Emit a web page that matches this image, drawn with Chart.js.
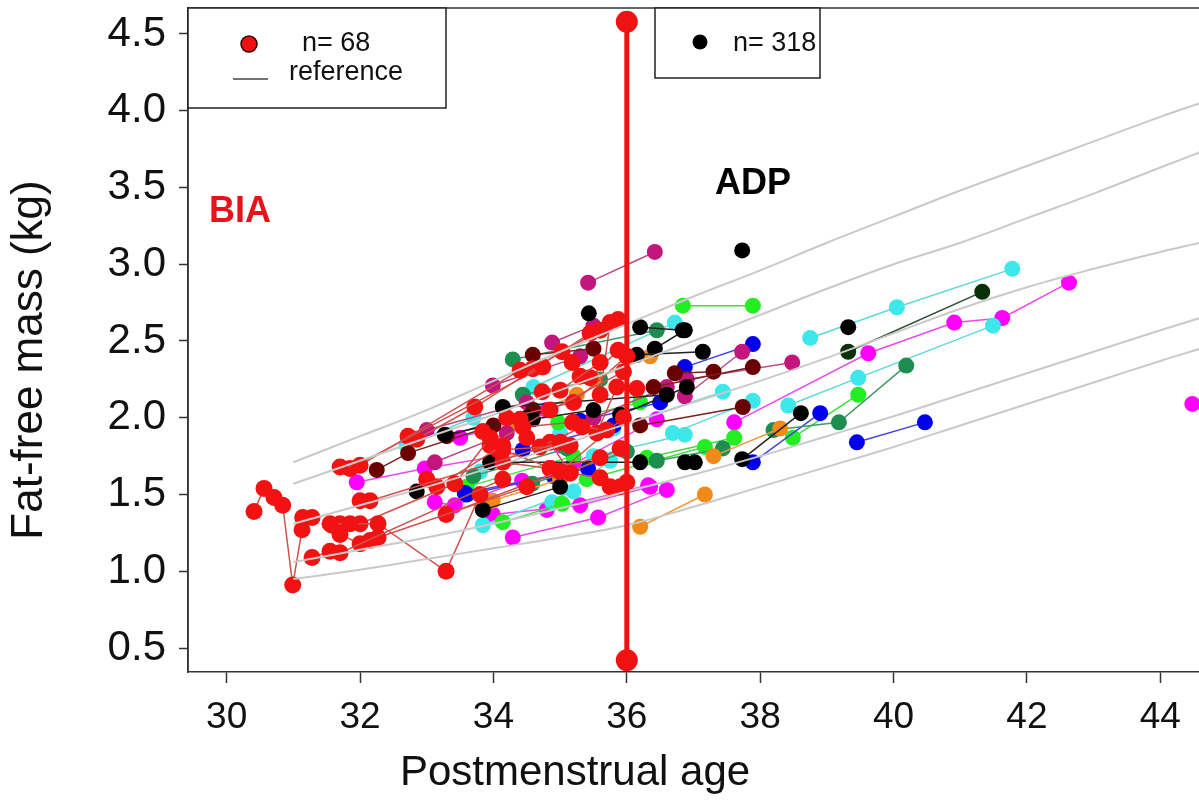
<!DOCTYPE html>
<html>
<head>
<meta charset="utf-8">
<script src="https://cdn.jsdelivr.net/npm/chart.js@4.4.1/dist/chart.umd.min.js"></script>
<style>
  html, body { margin: 0; padding: 0; background: #ffffff; }
  #wrap { width: 1199px; height: 801px; position: relative; }
</style>
</head>
<body>
<div id="wrap"><canvas id="c" width="1199" height="801"></canvas></div>
<script>
// ---------------- DATA ----------------
const xTicks = [30, 32, 34, 36, 38, 40, 42, 44];
const yTicks = [0.5, 1.0, 1.5, 2.0, 2.5, 3.0, 3.5, 4.0, 4.5];
const xTitle = 'Postmenstrual age';
const yTitle = 'Fat-free mass (kg)';

// reference curves (grey)
const refAge = [31, 32, 33, 34, 35, 36, 37, 38, 39, 40, 41, 42, 43, 44, 44.6];
const ref1 = [1.71, 1.88, 2.05, 2.24, 2.43, 2.61, 2.79, 2.96, 3.14, 3.31, 3.48, 3.64, 3.80, 3.96, 4.05];
const ref2 = [1.57, 1.72, 1.87, 2.02, 2.18, 2.34, 2.50, 2.67, 2.84, 3.00, 3.14, 3.30, 3.46, 3.63, 3.73];
const ref3 = [1.31, 1.43, 1.55, 1.68, 1.82, 1.96, 2.10, 2.24, 2.39, 2.55, 2.71, 2.85, 2.97, 3.08, 3.14];
const ref4 = [1.06, 1.14, 1.22, 1.31, 1.41, 1.52, 1.63, 1.75, 1.88, 2.01, 2.15, 2.29, 2.43, 2.57, 2.65];
const ref5 = [0.95, 1.01, 1.08, 1.15, 1.22, 1.30, 1.42, 1.55, 1.68, 1.81, 1.95, 2.09, 2.23, 2.37, 2.45];

// 36-week marker
const markerX = [36, 36];
const markerY = [0.42, 4.58];

// BIA subjects (red), each track = [[age, ffm], ...]
const biaTracks = [
  [[30.41,1.39],[30.56,1.54],[30.71,1.48],[30.84,1.43],[30.99,0.91],[31.13,1.27],[31.14,1.35],[31.28,1.35]],
  [[31.28,1.09],[31.55,1.13],[31.70,1.12],[34.14,1.60]],
  [[31.55,1.31],[31.85,1.31],[32.27,1.31],[33.29,1.00],[33.80,1.50]],
  [[31.58,1.30],[31.70,1.24],[32.00,1.18],[32.15,1.20],[32.27,1.22],[34.50,1.55]],
  [[31.70,1.31],[32.00,1.31],[33.42,1.57],[33.95,1.87]],
  [[31.70,1.68],[32.00,1.69],[34.40,2.31]],
  [[31.85,1.67],[34.74,2.33]],
  [[32.00,1.46],[32.15,1.46],[35.00,1.84]],
  [[32.72,1.88],[32.85,1.86],[33.72,2.07],[35.45,2.55]],
  [[33.00,1.60],[33.15,1.55],[34.14,1.82]],
  [[33.29,1.37],[35.00,1.65]],
  [[33.84,1.91],[34.07,1.79],[35.15,1.82]],
  [[34.14,1.71],[34.85,1.67],[35.60,1.74]],
  [[34.40,1.99],[34.44,1.94],[35.19,1.97]],
  [[34.50,1.87],[34.70,1.81],[35.33,1.94],[35.70,1.92]],
  [[34.59,2.32],[35.03,2.43],[35.60,2.57]],
  [[34.73,2.17],[35.00,2.18],[35.60,2.36]],
  [[35.18,2.36],[35.30,2.27],[35.45,2.26],[35.87,2.44]],
  [[34.85,1.84],[35.15,1.64],[35.60,1.61]],
  [[35.55,1.90],[35.85,2.20],[36.15,2.19]],
  [[35.60,2.15],[35.75,2.62],[35.87,2.64]],
  [[35.75,1.55],[35.90,1.55],[36.00,1.58]],
  [[34.85,1.67],[35.15,1.64],[35.90,1.80]],
  [[34.14,1.79],[35.00,1.65],[35.95,2.00]],
  [[33.95,1.82],[34.85,2.05],[35.95,2.30]],
  [[34.20,2.00],[35.20,2.10],[36.00,2.40]]
];

// ADP subjects by colour
const adpMagenta = [
  [[37.61,1.97],[39.62,2.42],[40.91,2.62],[41.63,2.65],[42.63,2.88]],
  [[44.48,2.09]],
  [[34.29,1.22],[35.57,1.35],[36.60,1.53]],
  [[33.99,1.37],[35.30,1.43],[36.35,1.55]],
  [[31.95,1.58],[32.97,1.67],[35.00,1.82]],
  [[33.12,1.45],[33.42,1.43],[34.43,1.59]],
  [[35.20,1.70],[36.45,1.99]],
  [[34.80,1.40],[36.32,1.56]],
  [[33.50,1.87],[34.80,2.05]]
];
const adpCyan = [
  [[38.75,2.52],[40.05,2.72],[41.78,2.97]],
  [[38.42,2.08],[39.47,2.26],[41.49,2.60]],
  [[34.60,2.20],[36.72,2.62]],
  [[35.80,1.93],[37.44,2.17]],
  [[36.69,1.90],[37.89,2.11]],
  [[33.84,1.30],[35.20,1.52]],
  [[34.88,1.45],[35.75,1.72]],
  [[32.70,1.82],[33.70,2.00]],
  [[35.50,1.75],[36.87,1.89]],
  [[33.80,1.65],[35.00,1.90]]
];
const adpGreen = [
  [[36.84,2.73],[37.89,2.73]],
  [[38.49,1.87],[39.47,2.15]],
  [[35.40,1.60],[37.17,1.81]],
  [[34.14,1.32],[35.03,1.44]],
  [[34.97,1.97],[36.20,2.10]],
  [[33.60,1.55],[35.20,1.75]],
  [[36.30,1.74],[37.61,1.87]]
];
const adpSeaGreen = [
  [[38.20,1.92],[39.18,1.97],[40.19,2.34]],
  [[36.45,1.72],[37.44,1.80]],
  [[34.29,2.38],[36.45,2.57]],
  [[34.44,2.15],[35.60,2.25]],
  [[34.58,1.57],[36.00,1.78]],
  [[33.70,1.62],[35.10,1.80]]
];
const adpBlue = [
  [[39.45,1.84],[40.47,1.97]],
  [[37.89,1.71],[38.90,2.03]],
  [[36.87,2.33],[37.89,2.48]],
  [[33.57,1.51],[35.42,1.67]],
  [[34.44,1.79],[35.80,1.95]],
  [[33.60,1.50],[34.90,1.62]],
  [[35.30,1.98],[36.50,2.10]]
];
const adpBlack = [
  [[37.73,3.09]],
  [[39.32,2.59]],
  [[35.43,2.68]],
  [[36.20,2.59],[36.84,2.57]],
  [[36.15,2.41],[37.14,2.43]],
  [[36.42,2.45],[36.87,2.57]],
  [[34.14,2.07],[36.60,2.15]],
  [[34.59,1.99],[35.50,2.05]],
  [[37.73,1.73],[38.61,2.03]],
  [[36.87,1.71],[37.02,1.71]],
  [[33.84,1.40],[35.00,1.55]],
  [[33.95,1.71],[36.20,1.71]],
  [[32.85,1.52]],
  [[33.27,1.89],[34.50,2.00]],
  [[35.90,2.02],[36.90,2.20]]
];
const adpDarkGreen = [
  [[39.32,2.43],[41.33,2.82]]
];
const adpMaroon = [
  [[36.40,2.20],[37.89,2.33]],
  [[36.20,1.95],[37.74,2.07]],
  [[34.59,2.41],[35.50,2.45]],
  [[32.25,1.66],[32.72,1.77],[34.00,1.95]],
  [[33.30,1.88],[34.60,2.05]],
  [[36.72,2.29],[37.30,2.30]]
];
const adpVioletRed = [
  [[36.90,2.25],[38.48,2.36]],
  [[35.42,2.88],[36.42,3.08]],
  [[33.99,2.21],[35.30,2.40]],
  [[34.88,2.49],[35.50,2.60]],
  [[33.00,1.92],[34.50,2.10]],
  [[33.12,1.71],[34.20,1.90]],
  [[36.87,2.14],[37.73,2.43]],
  [[35.50,2.00],[36.60,2.20]]
];
const adpOrange = [
  [[36.20,1.29],[37.17,1.50]],
  [[35.50,2.25],[36.35,2.40]],
  [[34.29,1.97],[35.25,2.15]],
  [[33.99,1.46],[35.00,1.60]],
  [[37.30,1.75],[38.30,1.93]]
];

// ---------------- STYLE ----------------
const FONT = "'Liberation Sans', Arial, Helvetica, sans-serif";
const groupStyles = [
  { tracks: adpBlack,     point: '#000000', line: '#222222' },
  { tracks: adpMaroon,    point: '#6a0000', line: '#7a2020' },
  { tracks: adpVioletRed, point: '#c2167c', line: '#b84a86' },
  { tracks: adpOrange,    point: '#f28a1a', line: '#ef9a45' },
  { tracks: adpSeaGreen,  point: '#1e8e50', line: '#3f9a66' },
  { tracks: adpDarkGreen, point: '#0a300a', line: '#2f4f2f' },
  { tracks: adpBlue,      point: '#0000ee', line: '#4545dd' },
  { tracks: adpGreen,     point: '#22ee22', line: '#44dd44' },
  { tracks: adpCyan,      point: '#3ee8ea', line: '#5ed8da' },
  { tracks: adpMagenta,   point: '#ff00ff', line: '#ea4aea' }
];

const toPts = (xs, ys) => xs.map((x, i) => ({ x: x, y: ys[i] }));
const trackPts = t => t.map(p => ({ x: p[0], y: p[1] }));

const datasets = [];
datasets.push({
  data: toPts(markerX, markerY), showLine: true, order: 0,
  borderColor: '#f01212', borderWidth: 5, pointRadius: 11,
  pointBackgroundColor: '#f01212', pointBorderWidth: 0
});
[ref1, ref2, ref3, ref4, ref5].forEach(r => datasets.push({
  data: toPts(refAge, r), showLine: true, order: 1, tension: 0.4,
  borderColor: '#c9c9c9', borderWidth: 2, pointRadius: 0
}));
biaTracks.forEach(t => datasets.push({
  data: trackPts(t), showLine: true, order: 2,
  borderColor: '#d0504c', borderWidth: 1.5, pointRadius: 8.5,
  pointBackgroundColor: '#f21212', pointBorderWidth: 0
}));
groupStyles.forEach((g, gi) => g.tracks.forEach(t => datasets.push({
  data: trackPts(t), showLine: true, order: 3 + gi,
  borderColor: g.line, borderWidth: 1.5, pointRadius: 8,
  pointBackgroundColor: g.point, pointBorderWidth: 0
})));

const decorPlugin = {
  id: 'decor',
  afterDraw(chart) {
    const ctx = chart.ctx, a = chart.chartArea;
    ctx.save();
    ctx.strokeStyle = '#333';
    ctx.lineWidth = 1.5;
    ctx.beginPath();
    ctx.moveTo(a.left, a.bottom); ctx.lineTo(a.left, a.top); ctx.lineTo(a.right + 2, a.top);
    ctx.stroke();
    // legend box 1
    ctx.fillStyle = '#fff';
    ctx.fillRect(a.left, a.top, 258, 100);
    ctx.strokeStyle = '#222';
    ctx.strokeRect(a.left, a.top, 258, 100);
    ctx.beginPath(); ctx.arc(249, 44, 8, 0, Math.PI * 2);
    ctx.fillStyle = '#ee1111'; ctx.fill(); ctx.lineWidth = 1.5; ctx.strokeStyle = '#300'; ctx.stroke();
    ctx.strokeStyle = '#444'; ctx.lineWidth = 1.5;
    ctx.beginPath(); ctx.moveTo(233, 79); ctx.lineTo(268, 79); ctx.stroke();
    ctx.fillStyle = '#111';
    ctx.font = '27px ' + FONT;
    ctx.textBaseline = 'middle';
    ctx.textAlign = 'left';
    ctx.fillText('n= 68', 302, 44);
    ctx.fillText('reference', 289, 73);
    // legend box 2
    ctx.fillStyle = '#fff';
    ctx.fillRect(655, a.top, 165, 70);
    ctx.strokeStyle = '#222'; ctx.lineWidth = 1.5;
    ctx.strokeRect(655, a.top, 165, 70);
    ctx.beginPath(); ctx.arc(700, 42, 7.5, 0, Math.PI * 2);
    ctx.fillStyle = '#000'; ctx.fill();
    ctx.fillStyle = '#111';
    ctx.fillText('n= 318', 733, 44);
    // group labels
    ctx.font = 'bold 36px ' + FONT;
    ctx.textBaseline = 'alphabetic';
    ctx.fillStyle = '#e5141b';
    ctx.fillText('BIA', 209, 222);
    ctx.fillStyle = '#000';
    ctx.fillText('ADP', 715, 194);
    // axis titles
    ctx.fillStyle = '#111';
    ctx.font = '42px ' + FONT;
    ctx.textAlign = 'center';
    ctx.textBaseline = 'middle';
    ctx.fillText(xTitle, 575, 773);
    ctx.translate(30, 360);
    ctx.rotate(-Math.PI / 2);
    ctx.font = '44px ' + FONT;
    ctx.fillText(yTitle, 0, 0);
    ctx.restore();
  }
};

new Chart(document.getElementById('c'), {
  type: 'scatter',
  data: { datasets: datasets },
  options: {
    responsive: false,
    devicePixelRatio: 1,
    animation: false,
    layout: { autoPadding: false, padding: { top: 8, right: 0, left: 0, bottom: 0 } },
    plugins: { legend: { display: false }, tooltip: { enabled: false } },
    scales: {
      x: {
        type: 'linear', min: 29.42, max: 44.58,
        afterFit: s => { s.height = 129; s.paddingLeft = 0; s.paddingRight = 0; },
        afterBuildTicks: s => { s.ticks = xTicks.map(v => ({ value: v })); },
        grid: { display: true, drawOnChartArea: false, drawTicks: true, tickLength: 11, tickColor: '#333', tickWidth: 1.5 },
        border: { display: true, color: '#333', width: 1.5 },
        ticks: { color: '#111', padding: 13, font: { family: FONT, size: 37 }, callback: v => String(v), maxRotation: 0 },
        title: { display: false }
      },
      y: {
        type: 'linear', min: 0.344, max: 4.669,
        afterFit: s => { s.width = 188; s.paddingTop = 0; s.paddingBottom = 0; },
        afterBuildTicks: s => { s.ticks = yTicks.map(v => ({ value: v })); },
        grid: { display: true, drawOnChartArea: false, drawTicks: true, tickLength: 9, tickColor: '#333', tickWidth: 1.5 },
        border: { display: true, color: '#333', width: 1.5 },
        ticks: { color: '#111', padding: 13, font: { family: FONT, size: 42 }, callback: v => v.toFixed(1) },
        title: { display: false }
      }
    }
  },
  plugins: [decorPlugin]
});
</script>
</body>
</html>
